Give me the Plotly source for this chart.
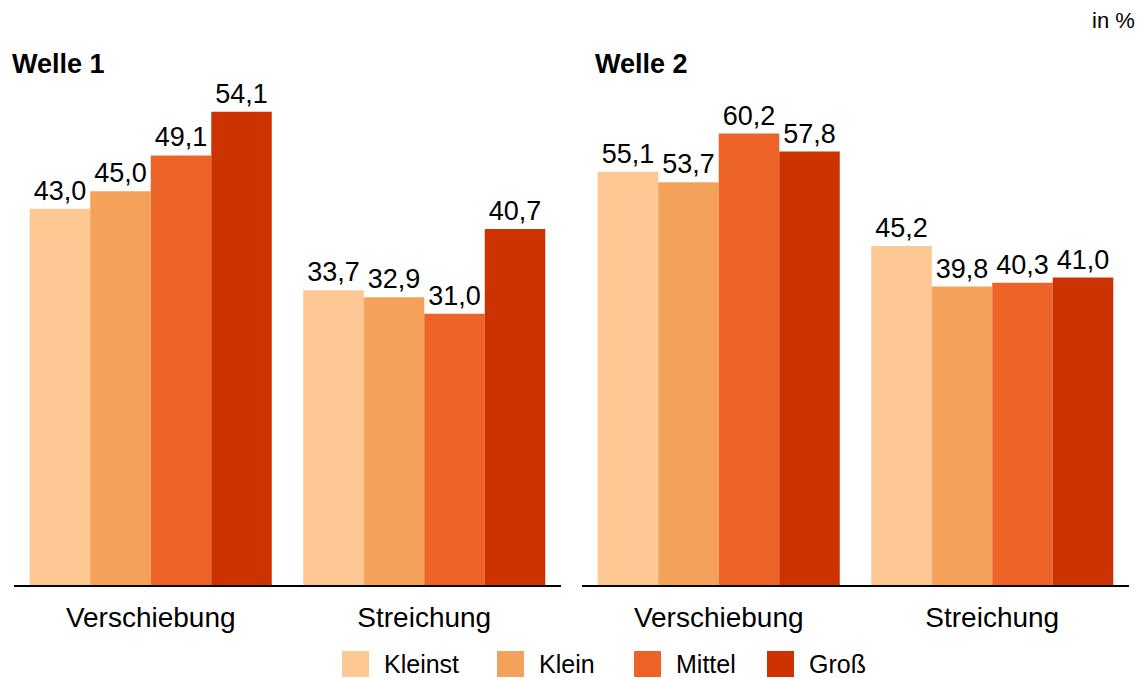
import plotly.graph_objects as go
from plotly.subplots import make_subplots

categories = ["Verschiebung", "Streichung"]
series = ["Kleinst", "Klein", "Mittel", "Groß"]
colors = ["#FDC894", "#F4A259", "#EE6328", "#CC3300"]
welle1 = {
    "Kleinst": [43.0, 33.7],
    "Klein": [45.0, 32.9],
    "Mittel": [49.1, 31.0],
    "Groß": [54.1, 40.7],
}
welle2 = {
    "Kleinst": [55.1, 45.2],
    "Klein": [53.7, 39.8],
    "Mittel": [60.2, 40.3],
    "Groß": [57.8, 41.0],
}
panel_titles = ["Welle 1", "Welle 2"]

W, H = 1142, 679
mt, mb = 60, 94
ph = H - mt - mb

fig = make_subplots(rows=1, cols=2)
FONT = "Liberation Sans, Arial, sans-serif"

for col, data in enumerate([welle1, welle2], start=1):
    for s, c in zip(series, colors):
        fig.add_trace(go.Bar(
            x=categories, y=data[s], name=s, marker_color=c,
            marker_line_width=0,
            text=[f"{v:.1f}".replace(".", ",") for v in data[s]],
            textposition="outside", cliponaxis=False,
            textfont=dict(size=27, color="black", family=FONT),
            showlegend=False,
        ), row=1, col=col)

fig.update_layout(
    width=W, height=H,
    margin=dict(l=0, r=0, t=mt, b=mb),
    barmode="group", bargap=0.115, bargroupgap=0,
    plot_bgcolor="white", paper_bgcolor="white",
    font=dict(family=FONT, color="black"),
    xaxis=dict(domain=[14 / W, 561 / W]),
    xaxis2=dict(domain=[582 / W, 1129 / W]),
    yaxis=dict(range=[0, 60]),
    yaxis2=dict(range=[0, 70]),
    uniformtext=dict(mode=False),
)
fig.update_xaxes(showline=True, linecolor="black", linewidth=1.5, showgrid=False,
                 ticks="", tickfont=dict(size=28, color="black", family=FONT),
                 ticklabelstandoff=7)
fig.update_yaxes(visible=False, showgrid=False)

def py(p):
    return (H - mb - p) / ph

# panel titles
for t, x in zip(panel_titles, [10, 593]):
    fig.add_annotation(text=f"<b>{t}</b>", xref="paper", yref="paper",
                       x=x / W, y=py(64), xanchor="left", yanchor="middle",
                       showarrow=False, font=dict(size=27, family=FONT, color="black"))
fig.add_annotation(text="in %", xref="paper", yref="paper", x=1137 / W, y=py(20),
                   xanchor="right", yanchor="middle", showarrow=False,
                   font=dict(size=22, family=FONT, color="black"))

# legend
leg_x = [342, 497, 634, 767]
for s, c, x in zip(series, colors, leg_x):
    fig.add_shape(type="rect", xref="paper", yref="paper",
                  x0=x / W, x1=(x + 27) / W, y0=py(677), y1=py(651),
                  fillcolor=c, line_width=0)
    fig.add_annotation(text=s, xref="paper", yref="paper", x=(x + 40) / W, y=py(664),
                       xanchor="left", yanchor="middle", showarrow=False,
                       font=dict(size=25, family=FONT, color="black"))

fig.write_html("out.html", config={"displayModeBar": False},
               post_script="document.body.style.margin='0';document.body.style.padding='0';")
